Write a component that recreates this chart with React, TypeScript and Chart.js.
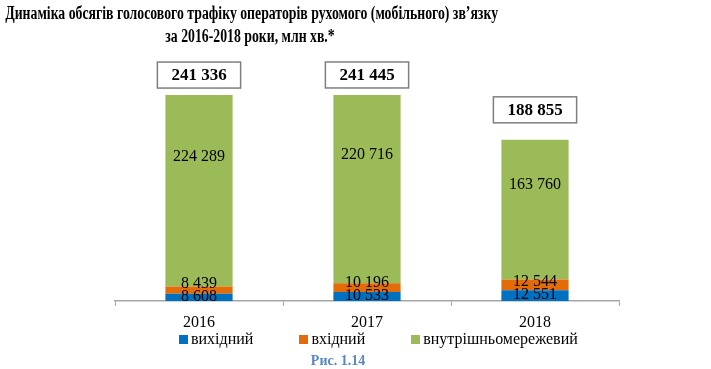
import React, { useEffect, useRef } from "react";
import { Chart, registerables } from "chart.js";

Chart.register(...registerables);

const categories = ["2016", "2017", "2018"];
const outgoing = [8608, 10533, 12551];
const incoming = [8439, 10196, 12544];
const onNet = [224289, 220716, 163760];
const totals = [241336, 241445, 188855];
const seriesNames = ["вихідний", "вхідний", "внутрішньомережевий"];
const seriesColors = ["#0070C0", "#E36C09", "#9BBB59"];
const titleLines = [
  "Динаміка обсягів голосового трафіку операторів рухомого (мобільного) зв’язку",
  "за 2016-2018 роки, млн хв.*",
];
const caption = "Рис. 1.14";

const fmt = (n: number) => String(n).replace(/\B(?=(\d{3})+(?!\d))/g, " ");
const SERIF = '"Liberation Serif", "Times New Roman", serif';

const labelPlugin = {
  id: "valueLabels",
  afterDatasetsDraw(chart: any) {
    const ctx = chart.ctx;
    const m0 = chart.getDatasetMeta(0);
    const m1 = chart.getDatasetMeta(1);
    const m2 = chart.getDatasetMeta(2);
    const boxGap = [7, 7, 17];
    ctx.save();
    ctx.textAlign = "center";
    ctx.textBaseline = "middle";
    categories.forEach((_, i) => {
      const b = m0.data[i];
      const o = m1.data[i];
      const g = m2.data[i];
      ctx.font = "16px " + SERIF;
      ctx.fillStyle = "#000";
      const bY = (b.y + b.base) / 2 - 1;
      const oY = Math.min((o.y + o.base) / 2, bY - 13);
      const gY = g.y + (g.base - g.y) * 0.32;
      ctx.fillText(fmt(outgoing[i]), b.x, bY);
      ctx.fillText(fmt(incoming[i]), o.x, oY);
      ctx.fillText(fmt(onNet[i]), g.x, gY);
      // total box
      ctx.font = "bold 17px " + SERIF;
      const tw = ctx.measureText(fmt(totals[i])).width;
      const w = tw + 28;
      const h = 26;
      const bottom = g.y - boxGap[i];
      ctx.fillStyle = "#fff";
      ctx.fillRect(g.x - w / 2, bottom - h, w, h);
      ctx.strokeStyle = "#7f7f7f";
      ctx.lineWidth = 1.5;
      ctx.strokeRect(g.x - w / 2, bottom - h, w, h);
      ctx.fillStyle = "#000";
      ctx.fillText(fmt(totals[i]), g.x, bottom - h / 2 + 1);
    });
    ctx.restore();
  },
};

export default function App() {
  const canvasRef = useRef<HTMLCanvasElement | null>(null);

  useEffect(() => {
    if (!canvasRef.current) return;
    const chart = new Chart(canvasRef.current, {
      type: "bar",
      data: {
        labels: categories,
        datasets: [
          { label: seriesNames[0], data: outgoing, backgroundColor: seriesColors[0] },
          { label: seriesNames[1], data: incoming, backgroundColor: seriesColors[1] },
          { label: seriesNames[2], data: onNet, backgroundColor: seriesColors[2] },
        ],
      },
      options: {
        responsive: false,
        animation: false,
        devicePixelRatio: 1,
        layout: { padding: { left: 115, right: 92, top: 45, bottom: 0 } },
        datasets: { bar: { categoryPercentage: 1, barPercentage: 0.4 } },
        plugins: {
          legend: { display: false },
          tooltip: { enabled: false },
          title: { display: false },
        },
        scales: {
          x: {
            stacked: true,
            afterFit: (s: any) => {
              s.height = 68;
            },
            grid: {
              offset: true,
              drawOnChartArea: false,
              drawTicks: true,
              tickLength: 5,
              color: "#a6a6a6",
              lineWidth: 1,
            },
            border: { display: true, color: "#a6a6a6", width: 1.5 },
            ticks: {
              color: "#000",
              padding: 7,
              font: { family: SERIF, size: 16 },
            },
          },
          y: {
            stacked: true,
            display: false,
            min: 0,
            max: 300000,
          },
        },
      },
      plugins: [labelPlugin],
    });
    return () => chart.destroy();
  }, []);

  return (
    <div
      style={{
        position: "absolute",
        left: 0,
        top: 0,
        width: 711,
        height: 369,
        background: "#fff",
        fontFamily: SERIF,
      }}
    >
      <canvas
        ref={canvasRef}
        width={711}
        height={369}
        style={{ position: "absolute", left: 0, top: 0, width: 711, height: 369 }}
      />
      <div
        style={{
          position: "absolute",
          left: -70,
          top: 2,
          width: 640,
          textAlign: "center",
          fontWeight: "bold",
          fontSize: 18,
          lineHeight: "23px",
          color: "#000",
          whiteSpace: "nowrap",
          transform: "scaleX(0.765)",
          transformOrigin: "50% 0",
        }}
      >
        {titleLines.map((t, i) => (
          <div key={i}>{t}</div>
        ))}
      </div>
      <div
        style={{
          position: "absolute",
          left: 179,
          top: 330,
          display: "flex",
          alignItems: "center",
          gap: 46,
          fontSize: 16,
          lineHeight: "18px",
          color: "#000",
          whiteSpace: "nowrap",
        }}
      >
        {seriesNames.map((n, i) => (
          <div key={i} style={{ display: "flex", alignItems: "center" }}>
            <span
              style={{
                display: "inline-block",
                width: 9,
                height: 9,
                background: seriesColors[i],
                marginRight: 3,
              }}
            />
            <span>{n}</span>
          </div>
        ))}
      </div>
      <div
        style={{
          position: "absolute",
          left: 288,
          width: 100,
          top: 353,
          textAlign: "center",
          fontWeight: "bold",
          fontSize: 14,
          lineHeight: "16px",
          color: "#5B87C0",
        }}
      >
        {caption}
      </div>
    </div>
  );
}
